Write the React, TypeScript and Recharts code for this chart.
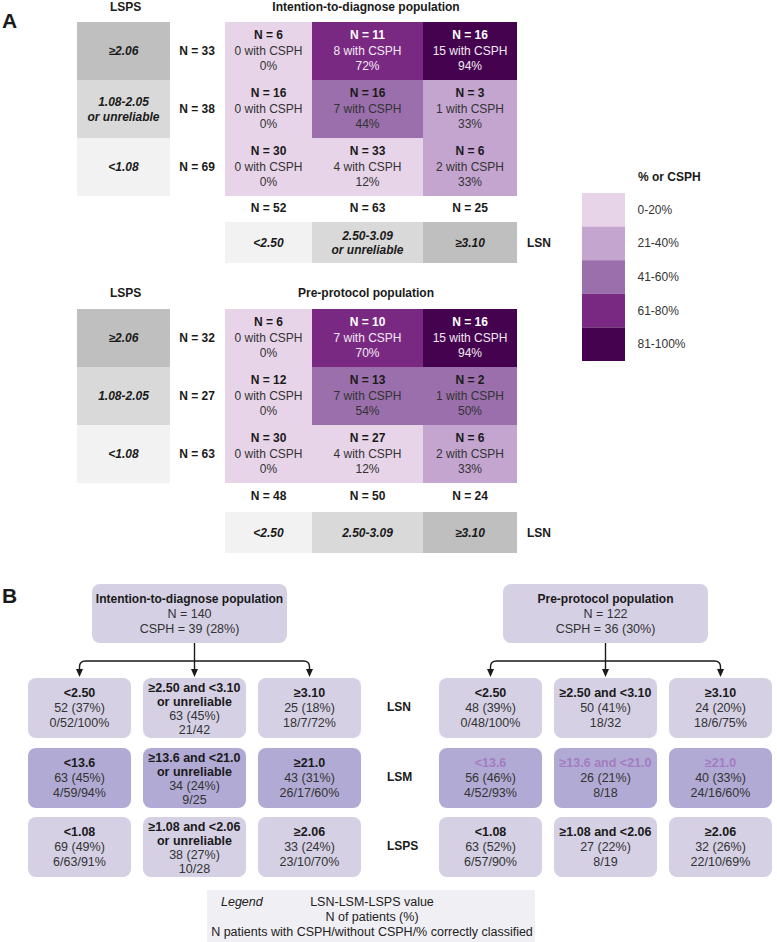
import React from 'react';
import { ScatterChart, Scatter, XAxis, YAxis } from 'recharts';

const W = 777;
const H = 942;
const FONT = '"Liberation Sans", Arial, Helvetica, sans-serif';

// ---- Panel A: LSPS x LSN cross tables ----
const ITD_N = [[6, 11, 16], [16, 16, 3], [30, 33, 6]];
const ITD_CSPH = [[0, 8, 15], [0, 7, 1], [0, 4, 2]];
const ITD_PCT = [[0, 72, 94], [0, 44, 33], [0, 12, 33]];
const ITD_ROW_N = [33, 38, 69];
const ITD_COL_N = [52, 63, 25];

const PP_N = [[6, 10, 16], [12, 13, 2], [30, 27, 6]];
const PP_CSPH = [[0, 7, 15], [0, 7, 1], [0, 4, 2]];
const PP_PCT = [[0, 70, 94], [0, 54, 50], [0, 12, 33]];
const PP_ROW_N = [32, 27, 63];
const PP_COL_N = [48, 50, 24];

const ITD_LSPS_LABELS = [['≥2.06'], ['1.08-2.05', 'or unreliable'], ['<1.08']];
const PP_LSPS_LABELS = [['≥2.06'], ['1.08-2.05'], ['<1.08']];
const ITD_LSN_LABELS = [['<2.50'], ['2.50-3.09', 'or unreliable'], ['≥3.10']];
const PP_LSN_LABELS = [['<2.50'], ['2.50-3.09'], ['≥3.10']];
const PANEL_TITLES = ['Intention-to-diagnose population', 'Pre-protocol population'];

const PCT_BINS = ['0-20%', '21-40%', '41-60%', '61-80%', '81-100%'];
const BIN_COLORS = ['#e8d4e8', '#c3a5d0', '#9a6fab', '#7a2983', '#45024f'];
const LSPS_GREYS = ['#bfbfbf', '#d9d9d9', '#f2f2f2'];
const LSN_GREYS = ['#f2f2f2', '#d9d9d9', '#bfbfbf'];

// ---- Panel B: decision trees ----
const ITD_HEAD = ['Intention-to-diagnose population', 'N = 140', 'CSPH = 39 (28%)'];
const PP_HEAD = ['Pre-protocol population', 'N = 122', 'CSPH = 36 (30%)'];
const MARKERS = ['LSN', 'LSM', 'LSPS'];

const ITD_CUTS = [
  [['<2.50'], ['≥2.50 and <3.10', 'or unreliable'], ['≥3.10']],
  [['<13.6'], ['≥13.6 and <21.0', 'or unreliable'], ['≥21.0']],
  [['<1.08'], ['≥1.08 and <2.06', 'or unreliable'], ['≥2.06']],
];
const ITD_TREE_N = [[52, 63, 25], [63, 34, 43], [69, 38, 33]];
const ITD_TREE_PCT = [[37, 45, 18], [45, 24, 31], [49, 27, 24]];
const ITD_WITH = [[0, 21, 18], [4, 9, 26], [6, 10, 23]];
const ITD_WITHOUT = [[52, 42, 7], [59, 25, 17], [63, 28, 10]];
const ITD_CORRECT = [[100, null, 72], [94, null, 60], [91, null, 70]];

const PP_CUTS = [
  [['<2.50'], ['≥2.50 and <3.10'], ['≥3.10']],
  [['<13.6'], ['≥13.6 and <21.0'], ['≥21.0']],
  [['<1.08'], ['≥1.08 and <2.06'], ['≥2.06']],
];
const PP_TREE_N = [[48, 50, 24], [56, 26, 40], [63, 27, 32]];
const PP_TREE_PCT = [[39, 41, 20], [46, 21, 33], [52, 22, 26]];
const PP_WITH = [[0, 18, 18], [4, 8, 24], [6, 8, 22]];
const PP_WITHOUT = [[48, 32, 6], [52, 18, 16], [57, 19, 10]];
const PP_CORRECT = [[100, null, 75], [93, null, 60], [90, null, 69]];

const LEGEND_LINES = ['LSN-LSM-LSPS value', 'N of patients (%)', 'N patients with CSPH/without CSPH/% correctly classified'];

// ---- layout (pixels, since the axes map 1:1 to the canvas) ----
const HEAT_COLS = [225, 312, 423, 517];
const HEAT_TOP = [22, 309];
const ROW_H = 58;
const TITLE_Y = [7, 293];
const COL_N_Y = [208, 496];
const LSN_TOP = [222, 512];
const LSN_H = 41;
const LSPS_X = [77, 170];
const ROW_N_X = 197;

const TREE_X0 = [28, 439];
const TREE_PITCH = 115;
const TREE_W = 103;
const TREE_H = 60;
const TREE_ROW_TOP = [678, 748, 817];
const HEAD_X = [[92, 287], [503, 708]];
const HEAD_Y = [584, 643];
const SPLIT_Y = 661;

const colMid = (c: number) => (HEAT_COLS[c] + HEAT_COLS[c + 1]) / 2;
const binOf = (p: number) => (p <= 20 ? 0 : p <= 40 ? 1 : p <= 60 ? 2 : p <= 80 ? 3 : 4);

const PANELS = [
  { n: ITD_N, csph: ITD_CSPH, pct: ITD_PCT, rowN: ITD_ROW_N, colN: ITD_COL_N, rowLab: ITD_LSPS_LABELS, colLab: ITD_LSN_LABELS },
  { n: PP_N, csph: PP_CSPH, pct: PP_PCT, rowN: PP_ROW_N, colN: PP_COL_N, rowLab: PP_LSPS_LABELS, colLab: PP_LSN_LABELS },
];

const heatData = PANELS.flatMap((p, pi) =>
  p.n.flatMap((row, r) =>
    row.map((n, c) => ({
      x: colMid(c), y: HEAT_TOP[pi] + ROW_H * (r + 0.5), c, n, csph: p.csph[r][c], pct: p.pct[r][c],
    })),
  ),
);

const rowLabelData = PANELS.flatMap((p, pi) =>
  p.rowLab.map((lines, r) => ({ x: (LSPS_X[0] + LSPS_X[1]) / 2, y: HEAT_TOP[pi] + ROW_H * (r + 0.5), lines, r, nText: `N = ${p.rowN[r]}` })),
);

const colLabelData = PANELS.flatMap((p, pi) =>
  p.colLab.map((lines, c) => ({ x: colMid(c), y: LSN_TOP[pi] + LSN_H / 2, lines, c, nText: `N = ${p.colN[c]}`, nDy: COL_N_Y[pi] - (LSN_TOP[pi] + LSN_H / 2) })),
);

const textData = [
  { x: 123, y: TITLE_Y[0], s: 'LSPS', bold: true, size: 12 },
  { x: 366, y: TITLE_Y[0], s: PANEL_TITLES[0], bold: true, size: 12 },
  { x: 123, y: TITLE_Y[1], s: 'LSPS', bold: true, size: 12 },
  { x: 366, y: TITLE_Y[1], s: PANEL_TITLES[1], bold: true, size: 12 },
  { x: 540, y: LSN_TOP[0] + LSN_H / 2, s: 'LSN', bold: true, size: 12 },
  { x: 540, y: LSN_TOP[1] + LSN_H / 2, s: 'LSN', bold: true, size: 12 },
  { x: 9, y: 20, s: 'A', bold: true, size: 21 },
  { x: 9, y: 595, s: 'B', bold: true, size: 21 },
  { x: 668, y: 177, s: '% or CSPH', bold: true, size: 12 },
  ...MARKERS.map((m, r) => ({ x: 400, y: TREE_ROW_TOP[r] + TREE_H / 2 - 1, s: m, bold: true, size: 12 })),
];

const binData = PCT_BINS.map((label, i) => ({ x: 603.5, y: 193 + 33.6 * (i + 0.5), label, i }));

const TREES = [
  { head: ITD_HEAD, cuts: ITD_CUTS, n: ITD_TREE_N, pct: ITD_TREE_PCT, w: ITD_WITH, wo: ITD_WITHOUT, ok: ITD_CORRECT, muted: false },
  { head: PP_HEAD, cuts: PP_CUTS, n: PP_TREE_N, pct: PP_TREE_PCT, w: PP_WITH, wo: PP_WITHOUT, ok: PP_CORRECT, muted: true },
];

const headData = TREES.map((t, ti) => ({ x: (HEAD_X[ti][0] + HEAD_X[ti][1]) / 2, y: (HEAD_Y[0] + HEAD_Y[1]) / 2, lines: t.head, w: HEAD_X[ti][1] - HEAD_X[ti][0] }));

const treeBoxData = TREES.flatMap((t, ti) =>
  t.n.flatMap((row, r) =>
    row.map((n, c) => ({
      x: TREE_X0[ti] + c * TREE_PITCH + TREE_W / 2,
      y: TREE_ROW_TOP[r] + TREE_H / 2,
      r,
      cuts: t.cuts[r][c],
      count: `${n} (${t.pct[r][c]}%)`,
      cls: t.ok[r][c] == null ? `${t.w[r][c]}/${t.wo[r][c]}` : `${t.w[r][c]}/${t.wo[r][c]}/${t.ok[r][c]}%`,
      muted: t.muted && r === 1,
    })),
  ),
);

const arrowData = TREES.flatMap((_, ti) =>
  [0, 1, 2].map((c) => {
    const mid = TREE_X0[ti] + TREE_PITCH + TREE_W / 2;
    return { x: TREE_X0[ti] + c * TREE_PITCH + TREE_W / 2, y: TREE_ROW_TOP[0] - 1, dx: mid - (TREE_X0[ti] + c * TREE_PITCH + TREE_W / 2), top: HEAD_Y[1], split: SPLIT_Y };
  }),
);

const legendData = [{ x: 371, y: 916 }];

const txt = (x: number, y: number, s: string, o: Record<string, unknown> = {}) => (
  <text x={x} y={y} textAnchor="middle" dominantBaseline="central" fontFamily={FONT} fontSize={12} fill="#1a1a1a" {...o}>
    {s}
  </text>
);

function HeatCell(props: any) {
  const { cx, cy, payload: d } = props;
  const w = HEAT_COLS[d.c + 1] - HEAT_COLS[d.c];
  const bin = binOf(d.pct);
  const light = bin >= 3;
  const fg = light ? '#ffffff' : '#1a1a1a';
  const fg2 = light ? '#f2eaf4' : '#333333';
  return (
    <g>
      <rect x={cx - w / 2} y={cy - ROW_H / 2} width={w} height={ROW_H} fill={BIN_COLORS[bin]} />
      {txt(cx, cy - 16, `N = ${d.n}`, { fontWeight: 'bold', fill: fg })}
      {txt(cx, cy, `${d.csph} with CSPH`, { fill: fg2 })}
      {txt(cx, cy + 15, `${d.pct}%`, { fill: fg2 })}
    </g>
  );
}

function RowLabel(props: any) {
  const { cx, cy, payload: d } = props;
  const w = LSPS_X[1] - LSPS_X[0];
  const n = d.lines.length;
  return (
    <g>
      <rect x={cx - w / 2} y={cy - ROW_H / 2} width={w} height={ROW_H} fill={LSPS_GREYS[d.r]} />
      {d.lines.map((s: string, i: number) => (
        <g key={i}>{txt(cx, cy + (i - (n - 1) / 2) * 15, s, { fontWeight: 'bold', fontStyle: 'italic' })}</g>
      ))}
      {txt(ROW_N_X, cy, d.nText, { fontWeight: 'bold' })}
    </g>
  );
}

function ColLabel(props: any) {
  const { cx, cy, payload: d } = props;
  const w = HEAT_COLS[d.c + 1] - HEAT_COLS[d.c];
  const n = d.lines.length;
  return (
    <g>
      <rect x={cx - w / 2} y={cy - LSN_H / 2} width={w} height={LSN_H} fill={LSN_GREYS[d.c]} />
      {d.lines.map((s: string, i: number) => (
        <g key={i}>{txt(cx, cy + (i - (n - 1) / 2) * 14, s, { fontWeight: 'bold', fontStyle: 'italic' })}</g>
      ))}
      {txt(cx, cy + d.nDy, d.nText, { fontWeight: 'bold' })}
    </g>
  );
}

function Label(props: any) {
  const { cx, cy, payload: d } = props;
  const anchor = d.s === '% or CSPH' || d.s === 'A' || d.s === 'B' || MARKERS.includes(d.s) ? 'start' : 'middle';
  const x = anchor === 'start' ? cx - (d.s === '% or CSPH' ? 30 : d.s.length === 1 ? 7 : 13) : cx;
  return txt(x, cy, d.s, { fontWeight: d.bold ? 'bold' : 'normal', fontSize: d.size, textAnchor: anchor });
}

function BinSwatch(props: any) {
  const { cx, cy, payload: d } = props;
  return (
    <g>
      <rect x={cx - 21.5} y={cy - 16.8} width={43} height={33.6} fill={BIN_COLORS[d.i]} />
      {txt(cx + 34, cy, d.label, { textAnchor: 'start', fill: '#333' })}
    </g>
  );
}

function HeadBox(props: any) {
  const { cx, cy, payload: d } = props;
  const h = HEAD_Y[1] - HEAD_Y[0];
  return (
    <g>
      <rect x={cx - d.w / 2} y={cy - h / 2} width={d.w} height={h} rx={8} fill="#d5d0e4" />
      {txt(cx, cy - 15, d.lines[0], { fontWeight: 'bold', fontSize: 12 })}
      {txt(cx, cy, d.lines[1], { fontSize: 12.5, fill: '#333' })}
      {txt(cx, cy + 15, d.lines[2], { fontSize: 12.5, fill: '#333' })}
    </g>
  );
}

function TreeBox(props: any) {
  const { cx, cy, payload: d } = props;
  const lines = [...d.cuts, d.count, d.cls];
  const n = lines.length;
  const step = n > 3 ? 14 : 15;
  const off = n > 3 ? 1 : 0;
  return (
    <g>
      <rect x={cx - TREE_W / 2} y={cy - TREE_H / 2} width={TREE_W} height={TREE_H} rx={8} fill={d.r === 1 ? '#b1aad4' : '#d5d0e4'} />
      {lines.map((s: string, i: number) => {
        const isCut = i < d.cuts.length;
        return (
          <g key={i}>
            {txt(cx, cy + off + (i - (n - 1) / 2) * step, s, {
              fontSize: 12.5,
              fontWeight: isCut ? 'bold' : 'normal',
              fill: isCut ? (d.muted ? '#a47cc0' : '#1a1a1a') : '#333',
            })}
          </g>
        );
      })}
    </g>
  );
}

function Arrow(props: any) {
  const { cx, cy, payload: d } = props;
  const px = cx + d.dx;
  const topY = cy - (d.y - d.top);
  const splitY = cy - (d.y - d.split);
  const rad = 6;
  const head = `M${cx - 3.5},${cy - 8} L${cx + 3.5},${cy - 8} L${cx},${cy} Z`;
  if (d.dx === 0) {
    return (
      <g>
        <line x1={cx} y1={topY} x2={cx} y2={cy - 7} stroke="#1a1a1a" strokeWidth={1.4} />
        <path d={head} fill="#1a1a1a" />
      </g>
    );
  }
  const s = Math.sign(d.dx);
  const path = `M${px},${splitY} L${cx + s * rad},${splitY} Q${cx},${splitY} ${cx},${splitY + rad} L${cx},${cy - 7}`;
  return (
    <g>
      <path d={path} fill="none" stroke="#1a1a1a" strokeWidth={1.4} />
      <path d={head} fill="#1a1a1a" />
    </g>
  );
}

function LegendBox(props: any) {
  const { cx, cy } = props;
  return (
    <g>
      <rect x={207} y={cy - 26} width={328} height={52} fill="#f0eff4" />
      {txt(221, cy - 14, 'Legend', { textAnchor: 'start', fontStyle: 'italic', fontSize: 12.5, fill: '#222' })}
      {LEGEND_LINES.map((s, i) => (
        <g key={i}>{txt(cx + 1, cy - 14 + i * 15, s, { fontSize: 12.5, fill: '#222' })}</g>
      ))}
    </g>
  );
}

export default function App() {
  return (
    <div style={{ position: 'absolute', left: 0, top: 0, background: '#fff' }}>
      <ScatterChart width={W} height={H} margin={{ top: 0, right: 0, bottom: 0, left: 0 }}>
        <XAxis type="number" dataKey="x" domain={[0, W]} hide height={0} allowDataOverflow />
        <YAxis type="number" dataKey="y" domain={[0, H]} reversed hide width={0} allowDataOverflow />
        <Scatter data={heatData} shape={HeatCell} isAnimationActive={false} />
        <Scatter data={rowLabelData} shape={RowLabel} isAnimationActive={false} />
        <Scatter data={colLabelData} shape={ColLabel} isAnimationActive={false} />
        <Scatter data={binData} shape={BinSwatch} isAnimationActive={false} />
        <Scatter data={textData} shape={Label} isAnimationActive={false} />
        <Scatter data={headData} shape={HeadBox} isAnimationActive={false} />
        <Scatter data={arrowData} shape={Arrow} isAnimationActive={false} />
        <Scatter data={treeBoxData} shape={TreeBox} isAnimationActive={false} />
        <Scatter data={legendData} shape={LegendBox} isAnimationActive={false} />
      </ScatterChart>
    </div>
  );
}
